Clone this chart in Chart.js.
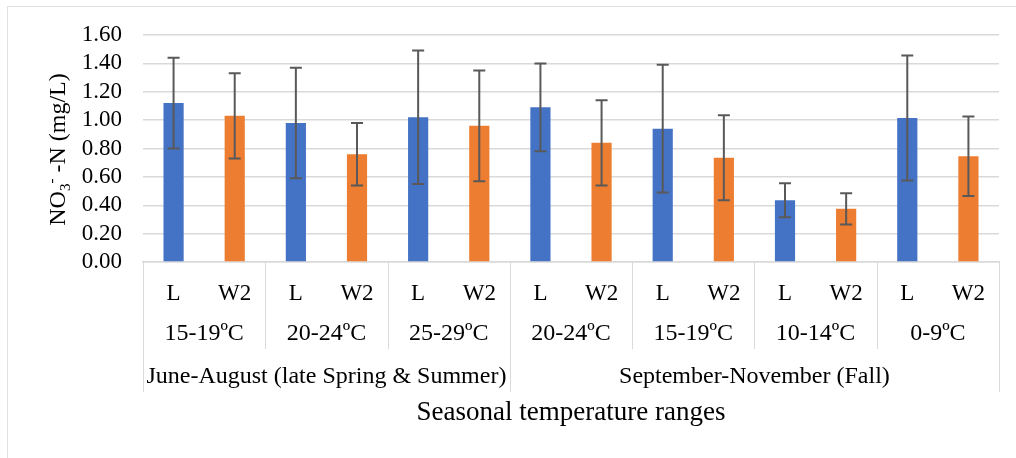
<!DOCTYPE html>
<html lang="en">
<head>
    <meta charset="UTF-8">
    <title>Nitrate-N by seasonal temperature range</title>
    <style>
        body {
            margin: 0;
            padding: 0;
            background: #fff;
        }
        #wrap {
            position: relative;
            width: 1016px;
            height: 458px;
            overflow: hidden;
        }
        #frame {
            position: absolute;
            left: 7px;
            top: 6px;
            width: 1100px;
            height: 500px;
            border-left: 1.5px solid #e2e2e2;
            border-top: 1.5px solid #e2e2e2;
        }
        canvas {
            position: absolute;
            left: 0;
            top: 0;
        }
    </style>
</head>
<body>
    <div id="wrap">
        <div id="frame"></div>
        <canvas id="no3Chart" width="1016" height="458"></canvas>
    </div>

    <script src="https://cdn.jsdelivr.net/npm/chart.js"></script>
    <script>
        const sites = ['L', 'W2'];
        const tempRanges = ['15-19ºC', '20-24ºC', '25-29ºC', '20-24ºC', '15-19ºC', '10-14ºC', '0-9ºC'];
        const seasons = ['June-August (late Spring & Summer)', 'September-November (Fall)'];
        const rangesPerSeason = [3, 4];

        // mean NO3--N (mg/L) and error bar half-widths, one value per temperature range
        const lMeans = [1.12, 0.98, 1.02, 1.09, 0.94, 0.435, 1.015];
        const w2Means = [1.03, 0.76, 0.96, 0.84, 0.735, 0.375, 0.745];
        const lErr = [0.32, 0.39, 0.47, 0.31, 0.45, 0.12, 0.44];
        const w2Err = [0.30, 0.22, 0.39, 0.30, 0.30, 0.11, 0.28];

        const yTicks = [0, 0.2, 0.4, 0.6, 0.8, 1.0, 1.2, 1.4, 1.6];

        const BLUE = '#4472c4';
        const ORANGE = '#ed7d31';
        const LINE = '#d9d9d9';
        const FONT = "'Liberation Serif', 'Times New Roman', serif";

        // interleave the two sites: L, W2, L, W2 ...
        const labels = [], values = [], errors = [], colors = [];
        tempRanges.forEach((_, i) => {
            labels.push(sites[0], sites[1]);
            values.push(lMeans[i], w2Means[i]);
            errors.push(lErr[i], w2Err[i]);
            colors.push(BLUE, ORANGE);
        });

        const errorBars = {
            id: 'errorBars',
            afterDatasetsDraw(chart) {
                const ctx = chart.ctx;
                const y = chart.scales.y;
                const meta = chart.getDatasetMeta(0);
                ctx.save();
                ctx.strokeStyle = '#595959';
                ctx.lineWidth = 2;
                meta.data.forEach((bar, i) => {
                    const top = y.getPixelForValue(values[i] + errors[i]);
                    const bot = y.getPixelForValue(values[i] - errors[i]);
                    ctx.beginPath();
                    ctx.moveTo(bar.x, top);
                    ctx.lineTo(bar.x, bot);
                    ctx.moveTo(bar.x - 6, top);
                    ctx.lineTo(bar.x + 6, top);
                    ctx.moveTo(bar.x - 6, bot);
                    ctx.lineTo(bar.x + 6, bot);
                    ctx.stroke();
                });
                ctx.restore();
            }
        };

        // temperature and season rows under the L / W2 ticks, plus the divider lines
        const groupAxis = {
            id: 'groupAxis',
            afterDraw(chart) {
                const ctx = chart.ctx;
                const x = chart.scales.x;
                const base = chart.chartArea.bottom;
                const tempY = 334, seasonY = 377;
                const innerBottom = 349, outerBottom = 392;
                ctx.save();
                ctx.strokeStyle = LINE;
                ctx.lineWidth = 1;
                ctx.fillStyle = '#000';
                ctx.font = '24px ' + FONT;
                ctx.textAlign = 'center';
                ctx.textBaseline = 'middle';

                const seasonEdges = [0];
                rangesPerSeason.forEach(n => seasonEdges.push(seasonEdges[seasonEdges.length - 1] + n));

                for (let g = 0; g <= tempRanges.length; g++) {
                    const px = Math.round(x.getPixelForValue(g * 2 - 0.5)) + 0.5;
                    const full = seasonEdges.includes(g);
                    ctx.beginPath();
                    ctx.moveTo(px, base);
                    ctx.lineTo(px, full ? outerBottom : innerBottom);
                    ctx.stroke();
                }

                tempRanges.forEach((t, g) => {
                    const cx = (x.getPixelForValue(g * 2) + x.getPixelForValue(g * 2 + 1)) / 2;
                    ctx.fillText(t, cx, tempY);
                });

                seasons.forEach((s, k) => {
                    const a = x.getPixelForValue(seasonEdges[k] * 2 - 0.5);
                    const b = x.getPixelForValue(seasonEdges[k + 1] * 2 - 0.5);
                    ctx.fillText(s, (a + b) / 2, seasonY);
                });
                ctx.restore();
            }
        };

        // y title with subscript 3 and superscript minus
        const yTitle = {
            id: 'yTitle',
            afterDraw(chart) {
                const ctx = chart.ctx;
                const area = chart.chartArea;
                const big = '24px ' + FONT, small = '15px ' + FONT;
                const parts = [
                    { t: 'NO', f: big, dy: 0 },
                    { t: '3', f: small, dy: 5 },
                    { t: '-', f: small, dy: -9 },
                    { t: ' -N (mg/L)', f: big, dy: 0 }
                ];
                ctx.save();
                let total = 0;
                parts.forEach(p => { ctx.font = p.f; p.w = ctx.measureText(p.t).width; total += p.w; });
                ctx.translate(57, (area.top + area.bottom) / 2 + 1);
                ctx.rotate(-Math.PI / 2);
                ctx.fillStyle = '#000';
                ctx.textBaseline = 'alphabetic';
                ctx.textAlign = 'left';
                let cx = -total / 2;
                parts.forEach(p => {
                    ctx.font = p.f;
                    ctx.fillText(p.t, cx, 8 + p.dy);
                    cx += p.w;
                });
                ctx.restore();
            }
        };

        new Chart(document.getElementById('no3Chart'), {
            type: 'bar',
            data: {
                labels: labels,
                datasets: [{
                    data: values,
                    backgroundColor: colors,
                    borderWidth: 0,
                    barPercentage: 0.33,
                    categoryPercentage: 1
                }]
            },
            options: {
                responsive: false,
                animation: false,
                layout: { padding: { left: 8, right: 17, top: 35, bottom: 0 } },
                plugins: {
                    legend: { display: false },
                    tooltip: { enabled: false }
                },
                scales: {
                    x: {
                        offset: true,
                        grid: { display: false, drawTicks: false },
                        border: { display: true, color: LINE, width: 1.5 },
                        ticks: {
                            color: '#000',
                            padding: 18,
                            maxRotation: 0,
                            autoSkip: false,
                            font: { family: FONT, size: 23 }
                        },
                        title: {
                            display: true,
                            text: 'Seasonal temperature ranges',
                            color: '#000',
                            font: { family: FONT, size: 27 },
                            padding: { top: 0, bottom: 29 }
                        },
                        afterFit(scale) { scale.height = 196; }
                    },
                    y: {
                        min: 0,
                        max: 1.6,
                        afterBuildTicks(scale) { scale.ticks = yTicks.map(v => ({ value: v })); },
                        grid: { color: LINE, lineWidth: 1.5, drawTicks: false },
                        border: { display: false },
                        ticks: {
                            color: '#000',
                            padding: 21,
                            autoSkip: false,
                            font: { family: FONT, size: 23 },
                            callback: v => v.toFixed(2)
                        },
                        afterFit(scale) { scale.width = 135; }
                    }
                }
            },
            plugins: [errorBars, groupAxis, yTitle]
        });
    </script>
</body>
</html>
